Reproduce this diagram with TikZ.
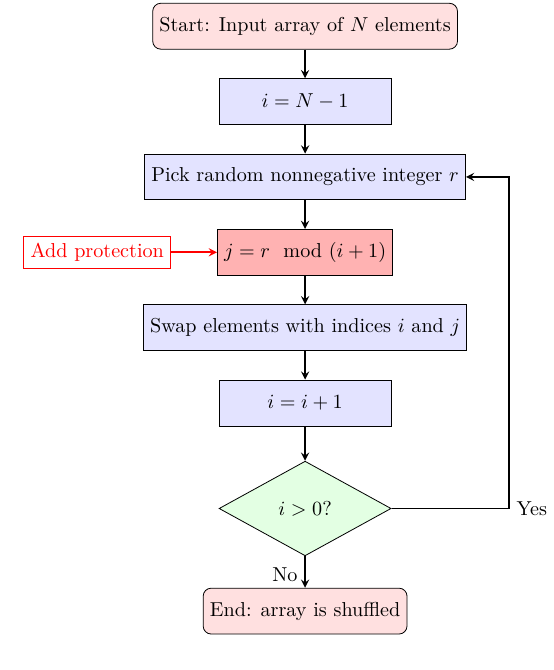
\documentclass[tikz,border=0pt]{standalone}
\usepackage{amsmath}
\usepackage{amssymb}
\usepackage{tikz}
\usetikzlibrary{shapes.geometric,shapes.misc,calc,positioning,arrows}

\begin{document}
\begin{tikzpicture}[node distance=0.5cm,
	startstop/.style={rectangle,rounded corners,draw,fill=red!12,minimum height=0.8cm},
	process/.style={rectangle,draw,fill=blue!11,minimum width=3cm,minimum height=0.8cm},
	decision/.style={diamond,draw,fill=green!11,minimum width=3cm,minimum height=1.65cm,inner sep=0pt},
	arrow/.style={thick,->,>=stealth}]
\node (start) [startstop] {Start: Input array of $N$ elements};
\node (init) [process,below=of start] {$i=N-1$};
\node (pick) [process,below=of init] {Pick random nonnegative integer $r$};
\node (mod) [process,fill=red!30,below=of pick] {$j=r \mod (i+1)$};
\node (prot) [draw=red,text=red,left=0.8cm of mod] {Add protection};
\node (swap) [process,below=of mod] {Swap elements with indices $i$ and $j$};
\node (inc) [process,below=of swap] {$i=i+1$};
\node (check) [decision,below=0.6cm of inc] {$i>0$?};
\node (stop) [startstop,below=0.55cm of check] {End: array is shuffled};
\coordinate [right=2.05cm of check.east] (loop);
\draw [arrow] (start) -- (init);
\draw [arrow] (init) -- (pick);
\draw [arrow] (pick) -- (mod);
\draw [arrow,red] (prot) -- (mod);
\draw [arrow] (mod) -- (swap);
\draw [arrow] (swap) -- (inc);
\draw [arrow] (inc) -- (check);
\draw [arrow] (check) -- node[left,pos=0.6] {No} (stop);
\draw [arrow] (check.east) -- (loop) node[right] {Yes} |- (pick.east);
\path [use as bounding box] ($(start.north)+(-5.32,0.05)$) rectangle ($(stop.south)+(4.14,-0.62)$);
\end{tikzpicture}
\end{document}
